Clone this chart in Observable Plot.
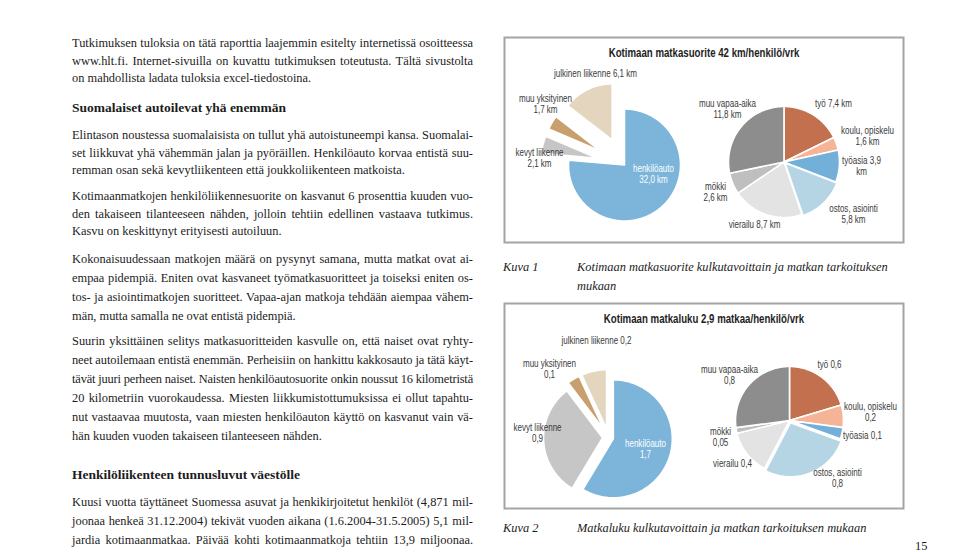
<!DOCTYPE html>
<html lang="fi">
<head>
<meta charset="utf-8">
<script src="https://cdn.jsdelivr.net/npm/d3@7"></script>
<script src="https://cdn.jsdelivr.net/npm/@observablehq/plot@0.6"></script>
<style>
  html, body { margin: 0; padding: 0; background: #fff; }
  #page { position: relative; width: 960px; height: 552px; overflow: hidden; background: #fff; color: #1c1c1c; font-family: "Liberation Serif", "Times New Roman", serif; }
  .blk { position: absolute; left: 72px; width: 401px; font-size: 12.4px; }
  .blk div { white-space: nowrap; }
  .j { text-align: justify; text-align-last: justify; }
  .l { text-align: left; text-align-last: left; }
  .L175 div { height: 17.5px; line-height: 17.5px; }
  .L19 div { height: 19px; line-height: 19px; }
  .h { position: absolute; left: 72px; font-weight: bold; font-size: 13.5px; line-height: 18px; white-space: nowrap; }
  .cap { position: absolute; font-style: italic; font-size: 12.4px; line-height: 19px; white-space: nowrap; }
  .panel { position: absolute; left: 503px; }
</style>
</head>
<body>
<div id="page">
  <div class="blk L175" style="top:35.25px">
    <div class="j">Tutkimuksen tuloksia on tätä raporttia laajemmin esitelty internetissä osoitteessa</div>
    <div class="j">www.hlt.fi. Internet-sivuilla on kuvattu tutkimuksen toteutusta. Tältä sivustolta</div>
    <div class="l">on mahdollista ladata tuloksia excel-tiedostoina.</div>
  </div>
  <div class="h" style="top:99px">Suomalaiset autoilevat yhä enemmän</div>
  <div class="blk L175" style="top:127.25px">
    <div class="j">Elintason noustessa suomalaisista on tullut yhä autoistuneempi kansa. Suomalai-</div>
    <div class="j">set liikkuvat yhä vähemmän jalan ja pyöräillen. Henkilöauto korvaa entistä suu-</div>
    <div class="l">remman osan sekä kevytliikenteen että joukkoliikenteen matkoista.</div>
  </div>
  <div class="blk L175" style="top:188.25px">
    <div class="j">Kotimaanmatkojen henkilöliikennesuorite on kasvanut 6 prosenttia kuuden vuo-</div>
    <div class="j">den takaiseen tilanteeseen nähden, jolloin tehtiin edellinen vastaava tutkimus.</div>
    <div class="l">Kasvu on keskittynyt erityisesti autoiluun.</div>
  </div>
  <div class="blk L19" style="top:249.5px">
    <div class="j">Kokonaisuudessaan matkojen määrä on pysynyt samana, mutta matkat ovat ai-</div>
    <div class="j">empaa pidempiä. Eniten ovat kasvaneet työmatkasuoritteet ja toiseksi eniten os-</div>
    <div class="j">tos- ja asiointimatkojen suoritteet. Vapaa-ajan matkoja tehdään aiempaa vähem-</div>
    <div class="l">män, mutta samalla ne ovat entistä pidempiä.</div>
  </div>
  <div class="blk L19" style="top:331.5px">
    <div class="j">Suurin yksittäinen selitys matkasuoritteiden kasvulle on, että naiset ovat ryhty-</div>
    <div class="j">neet autoilemaan entistä enemmän. Perheisiin on hankittu kakkosauto ja tätä käyt-</div>
    <div class="j">tävät juuri perheen naiset. Naisten henkilöautosuorite onkin noussut 16 kilometristä</div>
    <div class="j">20 kilometriin vuorokaudessa. Miesten liikkumistottumuksissa ei ollut tapahtu-</div>
    <div class="j">nut vastaavaa muutosta, vaan miesten henkilöauton käyttö on kasvanut vain vä-</div>
    <div class="l">hän kuuden vuoden takaiseen tilanteeseen nähden.</div>
  </div>
  <div class="h" style="top:466px">Henkilöliikenteen tunnusluvut väestölle</div>
  <div class="blk L19" style="top:492.5px">
    <div class="j">Kuusi vuotta täyttäneet Suomessa asuvat ja henkikirjoitetut henkilöt (4,871 mil-</div>
    <div class="j">joonaa henkeä 31.12.2004) tekivät vuoden aikana (1.6.2004-31.5.2005) 5,1 mil-</div>
    <div class="j">jardia kotimaanmatkaa. Päivää kohti kotimaanmatkoja tehtiin 13,9 miljoonaa.</div>
  </div>

  <div class="cap" style="left:503px; top:257.5px">Kuva 1</div>
  <div class="cap" style="left:577px; top:257.5px">Kotimaan matkasuorite kulkutavoittain ja matkan tarkoituksen<br>mukaan</div>
  <div class="cap" style="left:503px; top:518.5px">Kuva 2</div>
  <div class="cap" style="left:577px; top:518.5px">Matkaluku kulkutavoittain ja matkan tarkoituksen mukaan</div>
  <div style="position:absolute; left:915px; top:536.5px; font-size:12.4px; line-height:19px;">15</div>

  <div id="chart1" class="panel" style="top:36px"></div>
  <div id="chart2" class="panel" style="top:302px"></div>
</div>

<script>
// ---------- DATA ----------
const modes = ["henkilöauto", "kevyt liikenne", "muu yksityinen", "julkinen liikenne"];
const modeKm = [32.0, 2.1, 1.7, 6.1];          // km / henkilö / vrk
const modeTrips = [1.7, 0.9, 0.1, 0.2];         // matkaa / henkilö / vrk

const purposes = ["työ", "koulu, opiskelu", "työasia", "ostos, asiointi", "vierailu", "mökki", "muu vapaa-aika"];
const purposeKm = [7.4, 1.6, 3.9, 5.8, 8.7, 2.6, 11.8];
const purposeTrips = [0.6, 0.2, 0.1, 0.8, 0.4, 0.05, 0.8];

const titles = ["Kotimaan matkasuorite 42 km/henkilö/vrk", "Kotimaan matkaluku 2,9 matkaa/henkilö/vrk"];
const units = ["km", ""];

// ---------- STYLES / LAYOUT ----------
const colors = {
  "henkilöauto": "#7cb4da", "kevyt liikenne": "#c6c6c6", "muu yksityinen": "#c9a06d", "julkinen liikenne": "#e4d5be",
  "työ": "#c3704e", "koulu, opiskelu": "#f6b497", "työasia": "#72b0da", "ostos, asiointi": "#b5d4e4",
  "vierailu": "#e3e3e3", "mökki": "#bfbfbf", "muu vapaa-aika": "#8d8d8d"
};
const W = 401, H = 207;
const sans = "'Liberation Sans',Arial,sans-serif";
const squeeze = 0.78; // horizontal condensing of chart text (narrow face)

// label template: 0 = "name value unit", 1 = "name\nvalue unit", 2 = "name value\nunit"
const layouts = [
  {
    pies: [
      {cx: 121, cy: 128.5, r: 56, explode: {"kevyt liikenne": 28, "muu yksityinen": 28, "julkinen liikenne": 28}},
      {cx: 280.5, cy: 125.5, r: 55.5, explode: {"ostos, asiointi": 1.5}}
    ],
    labels: {
      "julkinen liikenne": [92, 37, 0], "muu yksityinen": [42, 67.5, 1], "kevyt liikenne": [36, 121.5, 1],
      "henkilöauto": [150, 137, 1],
      "muu vapaa-aika": [224, 72.5, 1], "työ": [330, 67, 0], "koulu, opiskelu": [364, 99.5, 1],
      "työasia": [358, 129.5, 2], "ostos, asiointi": [350, 177, 1], "vierailu": [251, 188, 0], "mökki": [212, 155.5, 1]
    },
    fmt: v => v.toFixed(1).replace(".", ",")
  },
  {
    pies: [
      {cx: 105, cy: 135, r: 59, explode: {"henkilöauto": 5, "kevyt liikenne": 6, "muu yksityinen": 9, "julkinen liikenne": 9}},
      {cx: 286, cy: 118, r: 54, explode: {"ostos, asiointi": 2.5}}
    ],
    labels: {
      "julkinen liikenne": [93, 38, 0], "muu yksityinen": [46, 66.5, 1], "kevyt liikenne": [34, 130, 1],
      "henkilöauto": [142, 146, 1],
      "muu vapaa-aika": [226, 72.5, 1], "työ": [326, 62, 0], "koulu, opiskelu": [367, 109, 1],
      "työasia": [359, 133, 0], "ostos, asiointi": [334, 175.5, 1], "vierailu": [229, 161, 0], "mökki": [217, 134.5, 1]
    },
    fmt: v => String(v).replace(".", ",")
  }
];

function sliceRows(names, values, geo, prefix) {
  const arcs = d3.pie().sort(null).value(d => d)(values);
  const rows = [];
  arcs.forEach((a, i) => {
    const name = names[i];
    const e = geo.explode[name] || 0;
    const mid = (a.startAngle + a.endAngle) / 2;
    const tx = geo.cx + e * Math.sin(mid), ty = geo.cy - e * Math.cos(mid);
    const key = prefix + i;
    rows.push({key, name, x: tx, y: ty});
    const n = Math.max(2, Math.ceil((a.endAngle - a.startAngle) / (Math.PI / 180)));
    for (let k = 0; k <= n; k++) {
      const t = a.startAngle + (a.endAngle - a.startAngle) * k / n;
      rows.push({key, name, x: tx + geo.r * Math.sin(t), y: ty - geo.r * Math.cos(t)});
    }
  });
  return rows;
}

function labelRows(names, values, lay, unit) {
  return names.map((name, i) => {
    const [x, y, tpl] = lay.labels[name];
    const v = lay.fmt(values[i]);
    const u = unit ? " " + unit : "";
    let text;
    if (tpl === 0) text = `${name} ${v}${u}`;
    else if (tpl === 1) text = `${name}\n${v}${u}`;
    else text = `${name} ${v}\n${unit}`;
    return {name, x, y, text};
  });
}

function condense(svg) {
  svg.querySelectorAll("text").forEach(t => {
    const tr = t.getAttribute("transform") || "";
    const x = +(t.getAttribute("x") || 0);
    t.setAttribute("transform", `${tr} translate(${x},0) scale(${squeeze},1) translate(${-x},0)`);
  });
  return svg;
}

function panel(idx, modeVals, purposeVals) {
  const lay = layouts[idx];
  const slices = [
    ...sliceRows(modes, modeVals, lay.pies[0], "m"),
    ...sliceRows(purposes, purposeVals, lay.pies[1], "p")
  ];
  const labels = [
    ...labelRows(modes, modeVals, lay, units[idx]),
    ...labelRows(purposes, purposeVals, lay, units[idx])
  ];
  return condense(Plot.plot({
    width: W, height: H, margin: 0,
    x: {domain: [0, W], range: [0, W], axis: null},
    y: {domain: [0, H], range: [0, H], axis: null},
    color: {type: "identity"},
    style: {background: "#fff", overflow: "visible"},
    marks: [
      Plot.line(slices, {x: "x", y: "y", z: "key", fill: d => colors[d.name], stroke: "#fff", strokeWidth: 1.6, curve: "linear-closed"}),
      Plot.text(labels, {
        x: "x", y: "y", text: "text", lineAnchor: "middle", lineHeight: 1.08,
        fontFamily: sans, fontSize: 10.3,
        fill: d => d.name === "henkilöauto" ? "#ffffff" : "#3a3a3a"
      }),
      Plot.text([titles[idx]], {frameAnchor: "top", dy: 12, text: d => d, fontFamily: sans, fontSize: 12.4, fontWeight: "bold", fill: "#1e1e1e"}),
      Plot.frame({stroke: "#a4a4a4", strokeWidth: 2, inset: 1})
    ]
  }));
}

document.getElementById("chart1").appendChild(panel(0, modeKm, purposeKm));
document.getElementById("chart2").appendChild(panel(1, modeTrips, purposeTrips));

// fit over-long justified lines
document.querySelectorAll(".blk div").forEach(el => {
  const span = document.createElement("span");
  span.textContent = el.textContent;
  span.style.cssText = "position:absolute;visibility:hidden;white-space:nowrap;";
  el.parentNode.appendChild(span);
  const w = span.getBoundingClientRect().width;
  span.remove();
  if (w > 401) {
    const n = el.textContent.length;
    el.style.letterSpacing = ((401 - w) / n) + "px";
  }
});
</script>
</body>
</html>
